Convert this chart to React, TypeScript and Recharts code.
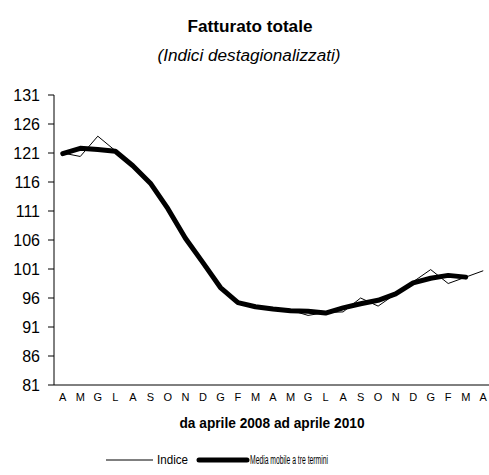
import { LineChart, Line, XAxis, YAxis, Legend } from "recharts";

const MONTHS = ["A", "M", "G", "L", "A", "S", "O", "N", "D", "G", "F", "M", "A", "M", "G", "L", "A", "S", "O", "N", "D", "G", "F", "M", "A"];
const INDICE = [121.0, 120.4, 123.9, 121.4, 118.9, 115.8, 111.4, 106.2, 102.1, 97.6, 95.1, 94.5, 94.2, 93.9, 93.0, 93.5, 93.6, 96.0, 94.6, 96.7, 98.8, 100.9, 98.5, 99.6, 100.7];
const MEDIA = [120.9, 121.8, 121.6, 121.3, 118.8, 115.8, 111.4, 106.3, 102.1, 97.8, 95.2, 94.5, 94.1, 93.8, 93.7, 93.4, 94.3, 95.0, 95.6, 96.7, 98.6, 99.4, 99.9, 99.6];
const Y_TICKS = [81, 86, 91, 96, 101, 106, 111, 116, 121, 126, 131];

const FONT = '"Liberation Sans", Arial, sans-serif';

const data = MONTHS.map((m, i) => ({
  x: i + 0.5,
  mese: m,
  indice: INDICE[i],
  media: i < MEDIA.length ? MEDIA[i] : null,
}));
// tick marks sit between months, labels in the middle
const BOUNDS = MONTHS.map((_, i) => i).concat([MONTHS.length]);
const CENTERS = MONTHS.map((_, i) => i + 0.5);

function LegendBox() {
  return (
    <svg width={330} height={16} style={{ display: "block", overflow: "visible" }}>
      <line x1={0} y1={8} x2={47} y2={8} stroke="#000" strokeWidth={1} />
      <text x={51} y={12} fill="#000" fontSize={12} fontFamily={FONT} textLength={31} lengthAdjust="spacingAndGlyphs">
        Indice
      </text>
      <line x1={93} y1={8} x2={141} y2={8} stroke="#000" strokeWidth={5} strokeLinecap="round" />
      <text x={144} y={12} fill="#000" fontSize={12} fontFamily={FONT} textLength={78} lengthAdjust="spacingAndGlyphs">
        Media mobile a tre termini
      </text>
    </svg>
  );
}

export default function App() {
  return (
    <div style={{ position: "absolute", left: 0, top: 0, width: 489, height: 475, overflow: "hidden", background: "#fff", fontFamily: FONT }}>
      <LineChart width={492} height={475} data={data} margin={{ top: 95, right: 0, bottom: 55, left: 0 }}>
        <XAxis
          xAxisId="b"
          dataKey="x"
          type="number"
          domain={[0, 25]}
          allowDataOverflow
          ticks={BOUNDS}
          interval={0}
          tick={false}
          tickSize={4}
          height={5}
          stroke="#000"
        />
        <XAxis
          xAxisId="lab"
          dataKey="x"
          type="number"
          domain={[0, 25]}
          allowDataOverflow
          ticks={CENTERS}
          interval={0}
          tickFormatter={(v: number) => MONTHS[Math.floor(v)]}
          axisLine={false}
          tickLine={false}
          tickSize={0}
          tickMargin={3}
          height={30}
          tick={{ fontSize: 11, fill: "#000", fontFamily: FONT }}
        />
        <YAxis
          domain={[81, 131]}
          ticks={Y_TICKS}
          interval={0}
          width={54}
          tickSize={6}
          tickMargin={8}
          stroke="#000"
          tick={{ fontSize: 16, fill: "#000", fontFamily: FONT }}
        />
        <Legend
          layout="horizontal"
          verticalAlign="middle"
          align="center"
          wrapperStyle={{ top: 452, left: 106, width: 330 }}
          content={() => <LegendBox />}
        />
        <Line xAxisId="b" dataKey="indice" name="Indice" stroke="#000" strokeWidth={1} dot={false} isAnimationActive={false} />
        <Line
          xAxisId="b"
          dataKey="media"
          name="Media mobile a tre termini"
          stroke="#000"
          strokeWidth={5}
          strokeLinejoin="round"
          strokeLinecap="round"
          dot={false}
          isAnimationActive={false}
        />
      </LineChart>
      <svg width={489} height={475} style={{ position: "absolute", left: 0, top: 0, pointerEvents: "none" }}>
        <text x={250} y={32} textAnchor="middle" fill="#000" fontSize={16} fontWeight="bold" fontFamily={FONT} textLength={125} lengthAdjust="spacingAndGlyphs">
          Fatturato totale
        </text>
        <text x={249} y={61} textAnchor="middle" fill="#000" fontSize={16} fontStyle="italic" fontFamily={FONT} textLength={183} lengthAdjust="spacingAndGlyphs">
          (Indici destagionalizzati)
        </text>
        <text x={272} y={428} textAnchor="middle" fill="#000" fontSize={14} fontWeight="bold" fontFamily={FONT} textLength={185} lengthAdjust="spacingAndGlyphs">
          da aprile 2008 ad aprile 2010
        </text>
      </svg>
    </div>
  );
}
